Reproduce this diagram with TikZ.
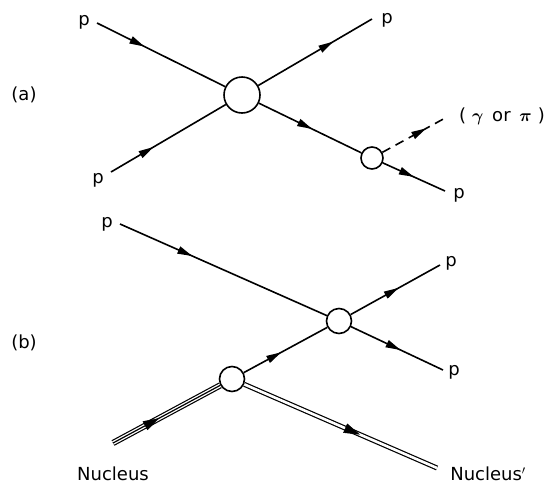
\documentclass[tikz,border=0pt]{standalone}
\usepackage{amsmath}
\usepackage{fontspec}
\setmainfont{DejaVu Sans}
\usepackage{tikz}
\usetikzlibrary{arrows.meta,decorations.markings,backgrounds}

\tikzset{
  prop/.style={line width=1.6pt,postaction={decorate},
    decoration={markings,mark=at position #1 with {\arrow{Triangle[length=15pt,width=7.5pt]}}}},
  heavyprop/.style={postaction={decorate},
    decoration={markings,mark=at position #1 with {\arrow{Triangle[length=16pt,width=10pt]}}}},
  blob/.style={circle,draw,line width=1.6pt,fill=white,inner sep=0pt},
  lbl/.style={font=\fontsize{18}{22}\selectfont,inner sep=0pt},
}

\begin{document}
\begin{tikzpicture}[x=1pt,y=-1pt]
  \useasboundingbox (0,0) rectangle (553,485);
  \node[blob,minimum size=36pt] (va) at (242,95) {};
  \node[blob,minimum size=22pt] (vs) at (372,158) {};
  \node[blob,minimum size=25pt] (vb) at (339,321) {};
  \node[blob,minimum size=25pt] (vn) at (232,379) {};
  \coordinate (a1) at (97,23);
  \coordinate (a2) at (111,172);
  \coordinate (a3) at (372,19);
  \coordinate (a4) at (447,117);
  \coordinate (a5) at (445,191);
  \coordinate (b1) at (120,224);
  \coordinate (b2) at (440,265);
  \coordinate (b3) at (443,370);
  \coordinate (n1) at (113,443);
  \coordinate (n2) at (437,468);
  \node[lbl] (la) at (24,95) {(a)};
  \node[lbl] (pa1) at (84,22) {p};
  \node[lbl] (pa2) at (98,180) {p};
  \node[lbl] (pa3) at (387,20) {p};
  \node[lbl] (ga) at (502,116) {(\,\,$\boldsymbol{\gamma}$\, or \,$\boldsymbol{\pi}$\,\,)};
  \node[lbl] (pa5) at (459,195) {p};
  \node[lbl] (lb) at (24,343) {(b)};
  \node[lbl] (pb1) at (107,224) {p};
  \node[lbl] (pb2) at (451,263) {p};
  \node[lbl] (pb3) at (454,372) {p};
  \node[lbl] (nuc) at (113,474) {Nucleus};
  \node[lbl] (nucp) at (488,474) {Nucleus$'$};
  \begin{pgfonlayer}{background}
    \draw[prop=0.37] (a1) -- (va);
    \draw[prop=0.37] (a2) -- (va);
    \draw[prop=0.66] (va) -- (a3);
    \draw[prop=0.52] (va) -- (vs);
    \draw[prop=0.68,dash pattern=on 9pt off 6pt] (vs) -- (a4);
    \draw[prop=0.5] (vs) -- (a5);
    \draw[prop=0.35] (b1) -- (vb);
    \draw[prop=0.54] (vb) -- (b2);
    \draw[prop=0.54] (vb) -- (b3);
    \draw[prop=0.45] (vn) -- (vb);
    \draw[line width=1.2pt,double,double distance=3.8pt] (n1) -- (vn);
    \draw[line width=1.2pt] (n1) -- (vn);
    \path[heavyprop=0.43] (n1) -- (vn);
    \draw[line width=1.2pt,double,double distance=2.6pt] (vn) -- (n2);
    \path[heavyprop=0.6] (vn) -- (n2);
  \end{pgfonlayer}
\end{tikzpicture}
\end{document}
